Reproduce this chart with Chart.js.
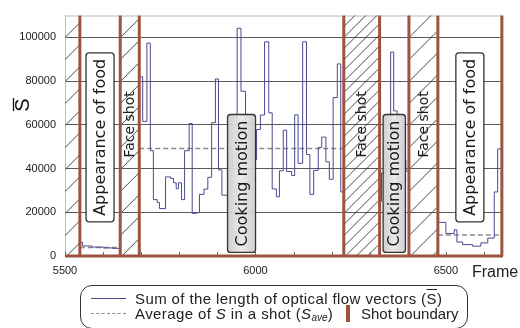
<!DOCTYPE html>
<html>
<head>
<meta charset="utf-8">
<script src="https://cdn.jsdelivr.net/npm/chart.js@4.4.0/dist/chart.umd.min.js"></script>
<style>
html, body { margin: 0; padding: 0; background: #fff; }
#wrap { position: relative; width: 520px; height: 328px; overflow: hidden; font-family: Arial, "Liberation Sans", sans-serif; color: #222; }
#myChart { position: absolute; left: 0; top: 0; }
#frameTitle { position: absolute; left: 472px; top: 263px; font-size: 16px; }
#legend { position: absolute; left: 80px; top: 285px; width: 388px; height: 44px; border: 1px solid #333; border-radius: 12px; box-sizing: border-box; font-size: 15px; letter-spacing: 0.4px; }
#legend .txt { position: absolute; white-space: nowrap; line-height: 15px; }
#legend .solid { position: absolute; left: 10px; top: 12px; width: 35px; border-top: 1.3px solid #4b4b8f; }
#legend .dash { position: absolute; left: 10px; top: 27px; width: 35px; border-top: 1.5px dashed #8c8c8c; }
#legend .bar { position: absolute; left: 265px; top: 19px; width: 4px; height: 17px; background: #9e5340; }
sub { font-size: 10px; line-height: 0; vertical-align: -2px; letter-spacing: 0; }
</style>
</head>
<body>
<div id="wrap">
  <canvas id="myChart" width="520" height="328"></canvas>
  <div id="frameTitle">Frame</div>
  <div id="legend">
    <div class="solid"></div>
    <div class="txt" style="left:54px;top:5px">Sum of the length of optical flow vectors (<span style="text-decoration:overline">S</span>)</div>
    <div class="dash"></div>
    <div class="txt" style="left:54px;top:20px">Average of <i>S</i> in a shot (<i>S</i><sub><i>ave</i></sub>)</div>
    <div class="bar"></div>
    <div class="txt" style="left:280px;top:20px;letter-spacing:0">Shot boundary</div>
  </div>
</div>
<script>
// shots (frame ranges), labels
const shotStart = [5500, 5539, 5645, 5695, 6232, 6326, 6403, 6479];
const shotEnd   = [5539, 5645, 5695, 6232, 6326, 6403, 6479, 6647];
const shotLabel = ['', 'Appearance of food', 'Face shot', 'Cooking motion', 'Face shot', 'Cooking motion', 'Face shot', 'Appearance of food'];
const hatched   = [true, false, true, false, true, false, true, false];
const shotAverage = [null, 3900, null, 49200, null, null, null, 9600];

// S per frame (step values, value holds until next frame listed)
const food1Frames = [5539, 5546, 5570, 5600, 5625, 5645];
const food1Values = [6300, 4600, 4100, 3700, 3500, 3500];
const cook1Frames = [5695, 5704, 5715, 5724, 5732, 5742, 5748, 5764, 5777, 5785, 5792, 5798, 5806, 5814, 5826, 5834, 5845, 5853, 5865, 5875,
  5885, 5895, 5903, 5912, 5928, 5940, 5952, 5962, 5974, 5990, 6003, 6013, 6024, 6035, 6044, 6055, 6063, 6073, 6082, 6095,
  6103, 6112, 6124, 6134, 6143, 6153, 6165, 6174, 6185, 6194, 6204, 6215, 6224, 6232];
const cook1Values = [82000, 61600, 97400, 48200, 25800, 24500, 21700, 36200, 35500, 33500, 30800, 33500, 25800, 48200, 60600, 19500, 19800, 28200, 30600, 36000,
  61000, 81000, 39400, 27800, 45000, 40000, 104200, 75400, 58000, 44000, 57900, 64500, 98000, 65500, 30700, 27100, 39000, 57600, 38700, 36800,
  64600, 42400, 98000, 46400, 28200, 39200, 49700, 54400, 43100, 35100, 72500, 87900, 29300, 29300];
const cook2Frames = [6326, 6331, 6342, 6355, 6363, 6372, 6385, 6395, 6403];
const cook2Values = [25000, 38000, 45000, 93300, 66400, 52000, 44000, 38900, 38900];
const food2Frames = [6479, 6500, 6522, 6529, 6544, 6570, 6592, 6610, 6627, 6636, 6647];
const food2Values = [15400, 10300, 12000, 6400, 5200, 4500, 6000, 8200, 29300, 49000, 49000];

const xLabelled = [5500, 6000, 6500];
const yTickValues = [0, 20000, 40000, 60000, 80000, 100000];

const sSeries = [];
[[food1Frames, food1Values], [cook1Frames, cook1Values], [cook2Frames, cook2Values], [food2Frames, food2Values]].forEach(([f, v]) => {
  f.forEach((fr, i) => sSeries.push({x: fr, y: v[i]}));
  sSeries.push({x: f[f.length - 1], y: null});
});
const avgSeries = [];
shotAverage.forEach((a, i) => {
  if (a === null) return;
  avgSeries.push({x: shotStart[i], y: a}, {x: shotEnd[i], y: a}, {x: shotEnd[i], y: null});
});

const BROWN = '#9e5340';
const labelStyle = {
  'Appearance of food': {box: true, fill: '#ffffff', center: 54300, font: '16px "DejaVu Sans"'},
  'Cooking motion': {box: true, fill: 'gray', center: 33200, font: '16px "DejaVu Sans"'},
  'Face shot': {box: false, center: 60200, font: '14px "DejaVu Sans"'}
};

const shotPlugin = {
  id: 'shots',
  beforeDatasetsDraw(chart) {
    const {ctx, chartArea: a, scales: {x, y}} = chart;
    ctx.save();
    // top frame line
    ctx.strokeStyle = '#cfcfcf'; ctx.lineWidth = 1.5;
    ctx.beginPath(); ctx.moveTo(a.left, a.top + 0.5); ctx.lineTo(a.right, a.top + 0.5); ctx.stroke();
    // hatching
    shotStart.forEach((s, i) => {
      if (!hatched[i]) return;
      const x0 = x.getPixelForValue(s), x1 = x.getPixelForValue(shotEnd[i]);
      const w = x1 - x0;
      const gap = w > 30 ? 11 : 22;
      ctx.save();
      ctx.beginPath(); ctx.rect(x0, a.top, w, a.bottom - a.top); ctx.clip();
      ctx.strokeStyle = '#333'; ctx.lineWidth = 0.9;
      ctx.beginPath();
      for (let c = a.top; c < a.bottom + w + gap; c += gap) {
        ctx.moveTo(x0, c); ctx.lineTo(x1, c - w);
      }
      ctx.stroke();
      ctx.restore();
    });
    // minor tick marks on the bottom axis
    ctx.strokeStyle = '#666'; ctx.lineWidth = 1;
    x.ticks.forEach(t => {
      const px = Math.round(x.getPixelForValue(t.value)) + 0.5;
      ctx.beginPath(); ctx.moveTo(px, a.bottom); ctx.lineTo(px, a.bottom - 4); ctx.stroke();
    });
    ctx.restore();
  },
  afterDatasetsDraw(chart) {
    const {ctx, chartArea: a, scales: {x, y}} = chart;
    ctx.save();
    // bottom axis + shot boundaries
    ctx.strokeStyle = BROWN; ctx.lineWidth = 3;
    ctx.beginPath(); ctx.moveTo(a.left, a.bottom); ctx.lineTo(a.right, a.bottom); ctx.stroke();
    shotEnd.forEach(f => {
      const px = x.getPixelForValue(f);
      ctx.beginPath(); ctx.moveTo(px, a.top); ctx.lineTo(px, a.bottom); ctx.stroke();
    });
    // shot labels
    shotLabel.forEach((txt, i) => {
      if (!txt) return;
      const st = labelStyle[txt];
      const x0 = x.getPixelForValue(shotStart[i]), x1 = x.getPixelForValue(shotEnd[i]);
      const cx = (x0 + x1) / 2, cy = y.getPixelForValue(st.center);
      ctx.font = st.font;
      const tw = ctx.measureText(txt).width;
      if (st.box) {
        const bw = Math.min(28, (x1 - x0) - 7), bh = tw + 12;
        if (st.fill === 'gray') {
          const g = ctx.createLinearGradient(cx - bw / 2, 0, cx + bw / 2, 0);
          g.addColorStop(0, 'rgba(205,205,205,0.95)');
          g.addColorStop(0.5, 'rgba(232,232,232,0.95)');
          g.addColorStop(1, 'rgba(205,205,205,0.95)');
          ctx.fillStyle = g;
        } else {
          ctx.fillStyle = st.fill;
        }
        ctx.beginPath(); ctx.roundRect(cx - bw / 2, cy - bh / 2, bw, bh, 3);
        ctx.fill();
        ctx.strokeStyle = '#333'; ctx.lineWidth = 1.3; ctx.stroke();
      }
      ctx.save();
      ctx.translate(cx + 1, cy);
      ctx.rotate(-Math.PI / 2);
      ctx.fillStyle = '#1a1a1a';
      ctx.textAlign = 'center'; ctx.textBaseline = 'middle';
      ctx.fillText(txt, 0, 0);
      ctx.restore();
    });
    ctx.restore();
  },
  afterDraw(chart) {
    const ctx = chart.ctx;
    ctx.save();
    ctx.translate(22, 105);
    ctx.rotate(-Math.PI / 2);
    ctx.font = '20px Arial';
    ctx.fillStyle = '#111';
    ctx.textAlign = 'center'; ctx.textBaseline = 'middle';
    ctx.fillText('S', 0, 1);
    ctx.strokeStyle = '#111'; ctx.lineWidth = 1.3;
    ctx.beginPath(); ctx.moveTo(-6, -8.5); ctx.lineTo(7, -8.5); ctx.stroke();
    ctx.restore();
  }
};

new Chart(document.getElementById('myChart'), {
  type: 'line',
  data: {
    datasets: [{
      label: 'S',
      data: sSeries,
      stepped: true,
      borderColor: '#4b4b8f',
      borderWidth: 1,
      pointRadius: 0,
      spanGaps: false
    }, {
      label: 'Save',
      data: avgSeries,
      borderColor: '#8c8c8c',
      borderDash: [5, 3],
      borderWidth: 1.5,
      pointRadius: 0,
      spanGaps: false
    }]
  },
  options: {
    responsive: false,
    animation: false,
    layout: { padding: { top: 4, right: 17, left: 0, bottom: 0 } },
    plugins: { legend: { display: false }, tooltip: { enabled: false } },
    scales: {
      x: {
        type: 'linear',
        min: 5500,
        max: 6650,
        afterFit: s => { s.height = 72; },
        ticks: {
          stepSize: 100,
          includeBounds: false,
          autoSkip: false,
          maxRotation: 0,
          padding: 8,
          color: '#222',
          font: { family: 'Arial', size: 11 },
          callback: v => xLabelled.includes(v) ? String(v) : ''
        },
        grid: { drawOnChartArea: false, drawTicks: false },
        border: { display: false }
      },
      y: {
        min: 0,
        max: 110000,
        afterFit: s => { s.width = 65; },
        afterBuildTicks: s => { s.ticks = yTickValues.map(v => ({value: v})); },
        ticks: {
          autoSkip: false,
          padding: 9,
          color: '#222',
          font: { family: 'Arial', size: 11 },
          callback: v => String(v)
        },
        grid: { color: '#5a5a5a', lineWidth: 1, drawTicks: false },
        border: { color: '#bdbdbd', width: 1 }
      }
    }
  },
  plugins: [shotPlugin]
});
</script>
</body>
</html>
